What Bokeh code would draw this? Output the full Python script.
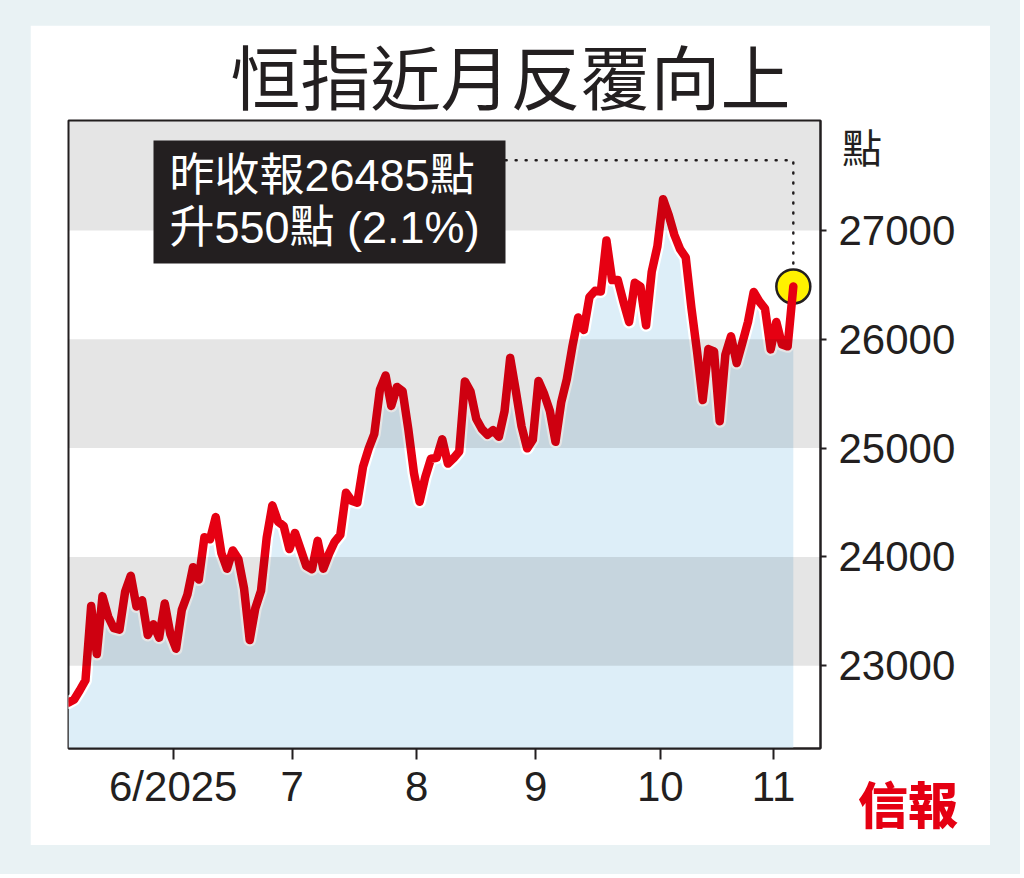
from bokeh.plotting import figure
from bokeh.models import BoxAnnotation, Label, FixedTicker, Range1d, Div
from bokeh.layouts import column
from bokeh.embed import file_html
from bokeh.resources import INLINE

# ---------------- data ----------------
dates = [
    "2025-05-06", "2025-05-07", "2025-05-08", "2025-05-09", "2025-05-12", "2025-05-13",
    "2025-05-14", "2025-05-15", "2025-05-16", "2025-05-19", "2025-05-20", "2025-05-21",
    "2025-05-22", "2025-05-23", "2025-05-26", "2025-05-27", "2025-05-28", "2025-05-29",
    "2025-05-30",
    "2025-06-02", "2025-06-03", "2025-06-04", "2025-06-05", "2025-06-06", "2025-06-09",
    "2025-06-10", "2025-06-11", "2025-06-12", "2025-06-13", "2025-06-16", "2025-06-17",
    "2025-06-18", "2025-06-19", "2025-06-20", "2025-06-23", "2025-06-24", "2025-06-25",
    "2025-06-26", "2025-06-27", "2025-06-30",
    "2025-07-02", "2025-07-03", "2025-07-04", "2025-07-07", "2025-07-08", "2025-07-09",
    "2025-07-10", "2025-07-11", "2025-07-14", "2025-07-15", "2025-07-16", "2025-07-17",
    "2025-07-18", "2025-07-21", "2025-07-22", "2025-07-23", "2025-07-24", "2025-07-25",
    "2025-07-28", "2025-07-29", "2025-07-30", "2025-07-31",
    "2025-08-01", "2025-08-04", "2025-08-05", "2025-08-06", "2025-08-07", "2025-08-08",
    "2025-08-11", "2025-08-12", "2025-08-13", "2025-08-14", "2025-08-15", "2025-08-18",
    "2025-08-19", "2025-08-20", "2025-08-21", "2025-08-22", "2025-08-25", "2025-08-26",
    "2025-08-27", "2025-08-28", "2025-08-29",
    "2025-09-01", "2025-09-02", "2025-09-03", "2025-09-04", "2025-09-05", "2025-09-08",
    "2025-09-09", "2025-09-10", "2025-09-11", "2025-09-12", "2025-09-15", "2025-09-16",
    "2025-09-17", "2025-09-18", "2025-09-19", "2025-09-22", "2025-09-23", "2025-09-24",
    "2025-09-25", "2025-09-26", "2025-09-29", "2025-09-30",
    "2025-10-02", "2025-10-03", "2025-10-06", "2025-10-08", "2025-10-09", "2025-10-10",
    "2025-10-13", "2025-10-14", "2025-10-15", "2025-10-16", "2025-10-17", "2025-10-20",
    "2025-10-21", "2025-10-22", "2025-10-23", "2025-10-24", "2025-10-27", "2025-10-28",
    "2025-10-30", "2025-10-31",
    "2025-11-03", "2025-11-04", "2025-11-05", "2025-11-06",
]
closes = [
    22662, 22691, 22775, 22867, 23549, 23108,
    23640, 23453, 23345, 23332, 23681, 23827,
    23544, 23601, 23282, 23381, 23258, 23573,
    23290,
    23157, 23512, 23654, 23906, 23792, 24181,
    24162, 24366, 24035, 23892, 24060, 23980,
    23711, 23237, 23530, 23689, 24177, 24474,
    24325, 24284, 24072,
    24221, 24069, 23916, 23887, 24148, 23892,
    24028, 24139, 24203, 24590, 24517, 24498,
    24826, 24994, 25130, 25538, 25667, 25388,
    25562, 25524, 25176, 24773,
    24507, 24733, 24902, 24910, 25081, 24858,
    24907, 24969, 25613, 25519, 25270, 25176,
    25122, 25165, 25104, 25339, 25829, 25524,
    25201, 24998, 25077,
    25617, 25497, 25343, 25058, 25418, 25633,
    25938, 26200, 26086, 26388, 26446, 26438,
    26908, 26544, 26545, 26344, 26159, 26519,
    26485, 26128, 26622, 26855,
    27287, 27140, 26958, 26829, 26753, 26290,
    25889, 25441, 25910, 25888, 25247, 25858,
    26027, 25781, 25967, 26160, 26434, 26347,
    26282, 25907,
    26159, 25952, 25935, 26485,
]
month_labels = {6: "6/2025", 7: "7", 8: "8", 9: "9", 10: "10", 11: "11"}
y_ticks = [23000, 24000, 25000, 26000, 27000]
gray_bands = [(27000, None), (25000, 26000), (23000, 24000)]
title_text = "恒指近月反覆向上"
unit_text = "點"
box_line1 = "昨收報26485點"
box_line2 = "升550點 (2.1%)"
logo_text = "信報"

# ---------------- derived ----------------
idx = list(range(len(dates)))
months = [int(d[5:7]) for d in dates]
tick_pos, tick_lab = [], {}
for i in range(1, len(dates)):
    if months[i] != months[i - 1]:
        tick_pos.append(i - 0.5)
        tick_lab[i - 0.5] = month_labels[months[i]]
last_i, last_v = idx[-1], closes[-1]

INK = "#231f20"
NUM_FONT = "Liberation Sans"
CJK_FONT = "Noto Sans CJK TC"
MIX_FONT = "'Liberation Sans', 'Noto Sans CJK TC'"

p = figure(frame_width=752, frame_height=628,
           x_range=Range1d(0, 132.8), y_range=Range1d(22240, 28010),
           output_backend="svg", toolbar_location=None, y_axis_location="right",
           min_border_left=38, min_border_right=170, min_border_top=95, min_border_bottom=97,
           border_fill_color="white", background_fill_color="white",
           outline_line_color=INK, outline_line_width=2)
p.grid.visible = False

# title (in the panel above the frame)
p.title.text = title_text
p.title.align = "left"
p.title.offset = 162
p.title.text_font = CJK_FONT
p.title.text_font_size = "70px"
p.title.text_font_style = "normal"
p.title.text_color = INK
try:
    p.title.standoff = -8
except Exception:
    p.title.standoff = 0
    p.title.text_font_size = "64px"

# area + leader + line
p.varea(x=idx, y1=22240, y2=closes, fill_color="#ddeef8")
p.line(x=[77.2, last_i, last_i], y=[27645, 27645, last_v], line_color=INK,
       line_width=2.5, line_dash="1 9", line_cap="round")
p.line(idx, closes, line_color="white", line_width=13, line_join="round", line_cap="round")
p.scatter([last_i], [last_v], size=34, fill_color="#fff100", line_color=INK, line_width=2.5)
p.line(idx, closes, line_color="#e60012", line_width=8.5, line_join="round", line_cap="round")

# bands
for lo, hi in gray_bands:
    p.add_layout(BoxAnnotation(bottom=lo, top=hi, fill_color="black", fill_alpha=0.1,
                               line_alpha=0))

# text box
p.add_layout(BoxAnnotation(left=85, right=437, top=608, bottom=485,
                           left_units="screen", right_units="screen",
                           top_units="screen", bottom_units="screen",
                           fill_color=INK, fill_alpha=1, line_alpha=0))
p.add_layout(Label(x=101, y=573, x_units="screen", y_units="screen", text=box_line1,
                   text_color="white", text_font=MIX_FONT, text_font_size="45px",
                   text_align="left", text_baseline="middle"))
p.add_layout(Label(x=101, y=521, x_units="screen", y_units="screen", text=box_line2,
                   text_color="white", text_font=MIX_FONT, text_font_size="45px",
                   text_align="left", text_baseline="middle"))

# axes
ya = p.yaxis[0]
ya.ticker = FixedTicker(ticks=y_ticks)
ya.axis_line_color = INK
ya.axis_line_width = 2
ya.major_tick_line_color = INK
ya.major_tick_line_width = 2
ya.major_tick_out = 6
ya.major_tick_in = 0
ya.minor_tick_out = 0
ya.minor_tick_in = 0
ya.major_label_standoff = 12
ya.major_label_text_font = NUM_FONT
ya.major_label_text_font_size = "42px"
ya.major_label_text_color = INK

xa = p.xaxis[0]
xa.ticker = FixedTicker(ticks=tick_pos)
xa.major_label_overrides = tick_lab
xa.axis_line_color = INK
xa.axis_line_width = 2
xa.major_tick_line_color = INK
xa.major_tick_line_width = 2
xa.major_tick_out = 11
xa.major_tick_in = 0
xa.minor_tick_out = 0
xa.minor_tick_in = 0
xa.major_label_standoff = 3
xa.major_label_text_font = NUM_FONT
xa.major_label_text_font_size = "42px"
xa.major_label_text_color = INK

# unit label and logo, placed over the white panel
unit_div = Div(text=unit_text, width=50, height=46,
               styles={"position": "absolute", "left": "837px", "top": "121px",
                       "font-family": CJK_FONT, "font-size": "40px", "line-height": "1",
                       "color": INK})
logo_div = Div(text=logo_text, width=110, height=56,
               styles={"position": "absolute", "left": "853px", "top": "772px",
                       "font-family": CJK_FONT, "font-size": "50px", "line-height": "1",
                       "font-weight": "900", "color": "#e50012"})

page = column(p, unit_div, logo_div,
              styles={"background-color": "#e9f2f4", "position": "relative",
                      "padding": "25px 30px 29px 30px"})

open("out.html", "w").write(file_html(page, INLINE))
